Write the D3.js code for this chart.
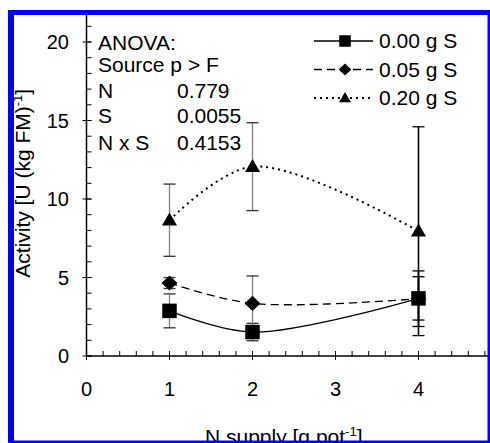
<!DOCTYPE html>
<html>
<head>
<meta charset="utf-8">
<script src="https://cdn.jsdelivr.net/npm/d3@7"></script>
<style>
  html, body { margin: 0; padding: 0; background: #fff; }
  svg { display: block; }
  text { font-family: "Liberation Sans", Arial, Helvetica, sans-serif; fill: #000; }
</style>
</head>
<body>
<svg id="chart" width="490" height="443"></svg>
<script>
// ---- data ----
const nSupply = [1, 2, 4];
const seriesNames = ["0.00 g S", "0.05 g S", "0.20 g S"];
const s000 = [2.875, 1.525, 3.67];
const e000 = [1.08, 0.555, 1.38];
const s005 = [4.65, 3.35, 3.65];
const e005 = [0.35, 1.75, 1.77];
const s020 = [8.65, 12.06, 7.95];
const e020 = [2.3, 2.8, 6.65];
const xTicks = [0, 1, 2, 3, 4];
const yTicks = [0, 5, 10, 15, 20];
const anovaRows = [["N", "0.779"], ["S", "0.0055"], ["N x S", "0.4153"]];

// ---- layout ----
const W = 490, H = 443;
const svg = d3.select("#chart");
svg.append("rect").attr("width", W).attr("height", H).attr("fill", "#fff");

const x = d3.scaleLinear().domain([0, 5]).range([86.5, 86.5 + 5 * 83]);
const y = d3.scaleLinear().domain([0, 22]).range([356, 356 - 22 * 15.7]);

const series = [
  { name: seriesNames[0], vals: s000, errs: e000, dash: null, marker: "square" },
  { name: seriesNames[1], vals: s005, errs: e005, dash: "8,5", marker: "diamond" },
  { name: seriesNames[2], vals: s020, errs: e020, dash: "2,4", marker: "triangle" }
];

// ---- axes ----
const g = svg.append("g");
g.append("line").attr("x1", x(0)).attr("x2", x(5)).attr("y1", y(0)).attr("y2", y(0))
  .attr("stroke", "#000").attr("stroke-width", 1.5);
g.append("line").attr("x1", x(0)).attr("x2", x(0)).attr("y1", y(0)).attr("y2", y(22))
  .attr("stroke", "#000").attr("stroke-width", 1.5);

const xMinor = d3.range(0, 5.001, 0.2);
g.selectAll(".xminor").data(xMinor).enter().append("line")
  .attr("x1", d => x(d)).attr("x2", d => x(d))
  .attr("y1", y(0)).attr("y2", y(0) - 5)
  .attr("stroke", "#000").attr("stroke-width", 1);
g.selectAll(".xmajor").data(xTicks).enter().append("line")
  .attr("x1", d => x(d)).attr("x2", d => x(d))
  .attr("y1", y(0) + 4).attr("y2", y(0) - 5)
  .attr("stroke", "#000").attr("stroke-width", 1);
g.selectAll(".xlab").data(xTicks).enter().append("text")
  .attr("x", d => x(d)).attr("y", 395.5)
  .attr("text-anchor", "middle").attr("font-size", 20)
  .text(d => d);

const yMinor = d3.range(0, 22.001, 1);
g.selectAll(".yminor").data(yMinor).enter().append("line")
  .attr("x1", x(0)).attr("x2", x(0) + 5)
  .attr("y1", d => y(d)).attr("y2", d => y(d))
  .attr("stroke", "#000").attr("stroke-width", 1);
g.selectAll(".ymajor").data(yTicks).enter().append("line")
  .attr("x1", x(0) - 4).attr("x2", x(0) + 5)
  .attr("y1", d => y(d)).attr("y2", d => y(d))
  .attr("stroke", "#000").attr("stroke-width", 1);
g.selectAll(".ylab").data(yTicks).enter().append("text")
  .attr("x", 69).attr("y", d => y(d) + 7.2)
  .attr("text-anchor", "end").attr("font-size", 20)
  .text(d => d);

// axis titles
const xt = svg.append("text").attr("x", 205).attr("y", 444).attr("font-size", 21);
xt.append("tspan").text("N supply [g pot");
xt.append("tspan").attr("font-size", 13).attr("dy", -8).text("-1");
xt.append("tspan").attr("dy", 8).text("]");

const yt = svg.append("text")
  .attr("transform", `translate(30,${(y(0) + y(22)) / 2}) rotate(-90)`)
  .attr("text-anchor", "middle").attr("font-size", 21);
yt.append("tspan").text("Activity [U (kg FM)");
yt.append("tspan").attr("font-size", 13).attr("dy", -8).text("-1");
yt.append("tspan").attr("dy", 8).text("]");

// ---- curves ----
const line = d3.line().x(d => x(d[0])).y(d => y(d[1])).curve(d3.curveCatmullRom.alpha(0.5));
series.forEach(s => {
  svg.append("path")
    .attr("d", line(nSupply.map((n, i) => [n, s.vals[i]])))
    .attr("fill", "none").attr("stroke", "#000").attr("stroke-width", s.marker === "triangle" ? 2 : 1.3)
    .attr("stroke-dasharray", s.dash);
});

// ---- error bars ----
const ebColor = n => (n === 4 ? "#000" : "#808080");
const capColor = n => (n === 4 ? "#000" : "#333");
series.forEach(s => {
  nSupply.forEach((n, i) => {
    const lo = s.vals[i] - s.errs[i], hi = s.vals[i] + s.errs[i];
    svg.append("line").attr("x1", x(n)).attr("x2", x(n)).attr("y1", y(lo)).attr("y2", y(hi))
      .attr("stroke", ebColor(n)).attr("stroke-width", n === 4 ? 1.6 : 1.3);
    [lo, hi].forEach(v => {
      svg.append("line").attr("x1", x(n) - 6).attr("x2", x(n) + 6).attr("y1", y(v)).attr("y2", y(v))
        .attr("stroke", capColor(n)).attr("stroke-width", 1.3);
    });
  });
});

// ---- markers ----
function drawMarker(sel, type, cx, cy, sz) {
  if (type === "square") {
    sel.append("rect").attr("x", cx - sz / 2).attr("y", cy - sz / 2)
      .attr("width", sz).attr("height", sz).attr("fill", "#000");
  } else if (type === "diamond") {
    const rx = sz * 0.55, ry = sz * 0.52;
    sel.append("path").attr("d", `M${cx},${cy - ry}L${cx + rx},${cy}L${cx},${cy + ry}L${cx - rx},${cy}Z`).attr("fill", "#000");
  } else {
    const hw = sz * 0.52, hh = sz * 0.88;
    sel.append("path").attr("d", `M${cx},${cy - hh * 0.6}L${cx + hw},${cy + hh * 0.42}L${cx - hw},${cy + hh * 0.42}Z`).attr("fill", "#000");
  }
}
series.forEach(s => {
  nSupply.forEach((n, i) => {
    drawMarker(svg, s.marker, x(n), y(s.vals[i]), 14.5);
  });
});

// ---- legend ----
const legRows = [41, 69.5, 98];
series.forEach((s, i) => {
  const ly = legRows[i];
  svg.append("line").attr("x1", 314).attr("x2", 373).attr("y1", ly).attr("y2", ly)
    .attr("stroke", "#000").attr("stroke-width", s.marker === "triangle" ? 2 : 1.3)
    .attr("stroke-dasharray", s.dash);
  drawMarker(svg, s.marker, 345, ly, 11.5);
  svg.append("text").attr("x", 379).attr("y", ly + 7).attr("font-size", 21).text(s.name);
});

// ---- ANOVA text ----
svg.append("text").attr("x", 98).attr("y", 50).attr("font-size", 21).text("ANOVA:");
svg.append("text").attr("x", 98).attr("y", 71.7).attr("font-size", 21).text("Source p > F");
const anovaY = [98.3, 123, 150];
anovaRows.forEach((r, i) => {
  svg.append("text").attr("x", 98).attr("y", anovaY[i]).attr("font-size", 21).text(r[0]);
  svg.append("text").attr("x", 177).attr("y", anovaY[i]).attr("font-size", 21).text(r[1]);
});

// ---- blue frame ----
const blue = "#0000ff";
svg.append("rect").attr("x", 8).attr("y", 10).attr("width", 6).attr("height", H - 10).attr("fill", blue);
svg.append("rect").attr("x", 8).attr("y", 10).attr("width", W - 8).attr("height", 5).attr("fill", blue);
svg.append("rect").attr("x", 487.5).attr("y", 10).attr("width", 2.5).attr("height", H - 10).attr("fill", blue);
svg.append("rect").attr("x", 8).attr("y", 440.5).attr("width", W - 8).attr("height", 2.5).attr("fill", blue);
</script>
</body>
</html>
